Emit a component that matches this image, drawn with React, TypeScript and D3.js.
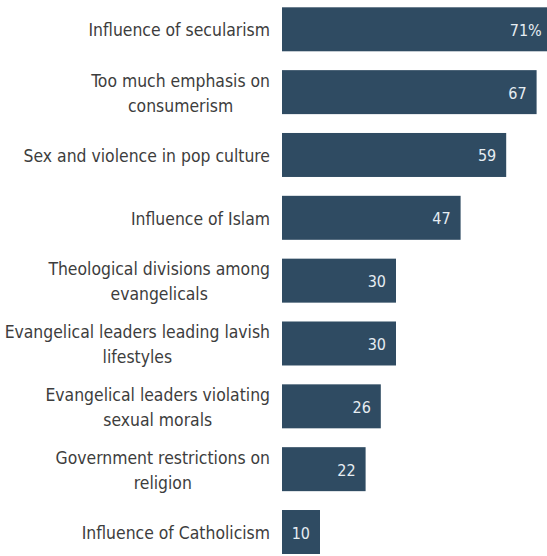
import React, { useEffect, useRef } from "react";
import * as d3 from "d3";

const categories: string[] = [
  "Influence of secularism",
  "Too much emphasis on\nconsumerism",
  "Sex and violence in pop culture",
  "Influence of Islam",
  "Theological divisions among\nevangelicals",
  "Evangelical leaders leading lavish\nlifestyles",
  "Evangelical leaders violating\nsexual morals",
  "Government restrictions on\nreligion",
  "Influence of Catholicism",
];
const values: number[] = [71, 67, 59, 47, 30, 30, 26, 22, 10];
const valueLabels: string[] = ["71%", "67", "59", "47", "30", "30", "26", "22", "10"];

const W = 547;
const H = 556;
const FONT = "'DejaVu Sans Condensed', 'DejaVu Sans', sans-serif";

export default function App() {
  const ref = useRef<SVGSVGElement | null>(null);

  useEffect(() => {
    document.body.style.margin = "0";
    const svg = d3.select(ref.current);
    svg.selectAll("*").remove();

    const x = d3.scaleLinear().domain([0, 100]).range([282, 282 + 380]);
    const y = d3
      .scaleBand<string>()
      .domain(categories)
      .range([7.3, 554])
      .paddingInner(0.3)
      .paddingOuter(0);

    const g = svg.append("g");

    g.selectAll("rect.bar")
      .data(categories)
      .join("rect")
      .attr("class", "bar")
      .attr("x", x(0))
      .attr("y", (d) => y(d)!)
      .attr("width", (_d, i) => x(values[i]) - x(0))
      .attr("height", y.bandwidth())
      .attr("fill", "#2f4b62");

    g.selectAll("text.val")
      .data(categories)
      .join("text")
      .attr("class", "val")
      .attr("x", (_d, i) => x(values[i]) - 10)
      .attr("y", (d) => y(d)! + y.bandwidth() / 2 + 1)
      .attr("text-anchor", "end")
      .attr("dominant-baseline", "central")
      .attr("font-family", FONT)
      .attr("font-stretch", "condensed")
      .attr("font-size", 16)
      .attr("fill", "#e6edf2")
      .text((_d, i) => valueLabels[i]);

    const labelRight = 270;
    const lineGap = 25;
    categories.forEach((c) => {
      const lines = c.split("\n");
      const cy = y(c)! + y.bandwidth() / 2 + 1;
      const grp = g.append("g");
      const texts = lines.map((ln, j) =>
        grp
          .append("text")
          .attr("y", cy + (j - (lines.length - 1) / 2) * lineGap)
          .attr("dominant-baseline", "central")
          .attr("text-anchor", "middle")
          .attr("font-family", FONT)
          .attr("font-stretch", "condensed")
          .attr("font-size", 17.4)
          .attr("fill", "#3d3d3d")
          .text(ln)
      );
      const widths = texts.map((t) => (t.node() as SVGTextElement).getComputedTextLength());
      const maxW = d3.max(widths) || 0;
      const cx = labelRight - maxW / 2;
      texts.forEach((t) => t.attr("x", cx));
    });
  }, []);

  return (
    <svg
      ref={ref}
      width={W}
      height={H}
      style={{ display: "block", background: "#ffffff" }}
    />
  );
}
